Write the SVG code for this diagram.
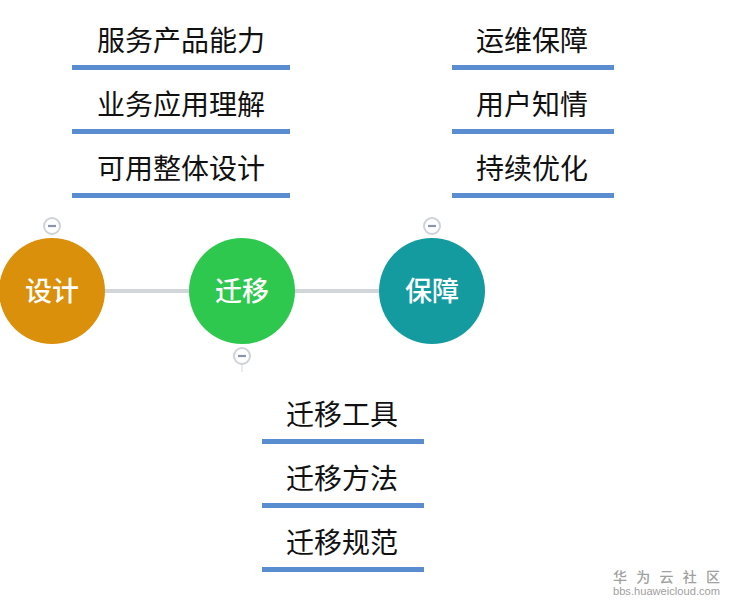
<svg xmlns="http://www.w3.org/2000/svg" width="735" height="606" viewBox="0 0 735 606">
<style>
.lbl{font-family:"Noto Sans CJK SC","Noto Sans",sans-serif;font-size:28px;fill:#111;text-anchor:middle}
.bar{fill:#5a8dd0}
.hub{font-family:"Noto Sans CJK SC","Noto Sans",sans-serif;font-size:27px;font-weight:500;fill:#fff;text-anchor:middle}
.tog circle{fill:#fff;stroke:#cfd2d8;stroke-width:2}
.tog line{stroke:#8a94ad;stroke-width:2.2}
.conn{stroke:#d2d5da;stroke-width:4;fill:none}
</style>
<rect width="735" height="606" fill="#fff"/>
<g id="connectors">
<line class="conn" x1="104" y1="291" x2="190" y2="291"/>
<line class="conn" x1="294" y1="291" x2="380" y2="291"/>
<line x1="242" y1="364" x2="242" y2="372" stroke="#e4e6ea" stroke-width="1.5"/>
</g>
<g id="node-design">
<circle cx="52" cy="291" r="53" fill="#da900a"/>
<text class="hub" x="52" y="301">设计</text>
</g>
<g id="node-migrate">
<circle cx="242" cy="291" r="53" fill="#2dc84d"/>
<text class="hub" x="242" y="301">迁移</text>
</g>
<g id="node-assure">
<circle cx="432" cy="291" r="53" fill="#149ba0"/>
<text class="hub" x="432" y="301">保障</text>
</g>
<g id="toggle-design" class="tog"><circle cx="52" cy="226" r="8"/><line x1="48" y1="226" x2="56" y2="226"/></g>
<g id="toggle-migrate" class="tog"><circle cx="242" cy="356" r="8"/><line x1="238" y1="356" x2="246" y2="356"/></g>
<g id="toggle-assure" class="tog"><circle cx="432" cy="226" r="8"/><line x1="428" y1="226" x2="436" y2="226"/></g>
<g id="item-fwcpnl"><text class="lbl" x="181" y="51">服务产品能力</text><rect class="bar" x="72" y="65" width="218" height="5"/></g>
<g id="item-ywyylj"><text class="lbl" x="181" y="115">业务应用理解</text><rect class="bar" x="72" y="129" width="218" height="5"/></g>
<g id="item-kyztsj"><text class="lbl" x="181" y="179">可用整体设计</text><rect class="bar" x="72" y="193" width="218" height="5"/></g>
<g id="item-ywbz"><text class="lbl" x="532" y="51">运维保障</text><rect class="bar" x="452" y="65" width="162" height="5"/></g>
<g id="item-yhzq"><text class="lbl" x="532" y="115">用户知情</text><rect class="bar" x="452" y="129" width="162" height="5"/></g>
<g id="item-cxyh"><text class="lbl" x="532" y="179">持续优化</text><rect class="bar" x="452" y="193" width="162" height="5"/></g>
<g id="item-qygj"><text class="lbl" x="342" y="425">迁移工具</text><rect class="bar" x="262" y="439" width="162" height="5"/></g>
<g id="item-qyff"><text class="lbl" x="342" y="489">迁移方法</text><rect class="bar" x="262" y="503" width="162" height="5"/></g>
<g id="item-qygf"><text class="lbl" x="342" y="553">迁移规范</text><rect class="bar" x="262" y="567" width="162" height="5"/></g>
<g id="watermark" fill="#a0a0a0">
<text x="613" y="582" font-family="Noto Sans CJK SC,sans-serif" font-size="14" font-weight="500" textLength="107" lengthAdjust="spacing">华为云社区</text>
<text x="613" y="595" font-family="Liberation Sans,sans-serif" font-size="11" textLength="107" lengthAdjust="spacingAndGlyphs">bbs.huaweicloud.com</text>
</g>
</svg>
